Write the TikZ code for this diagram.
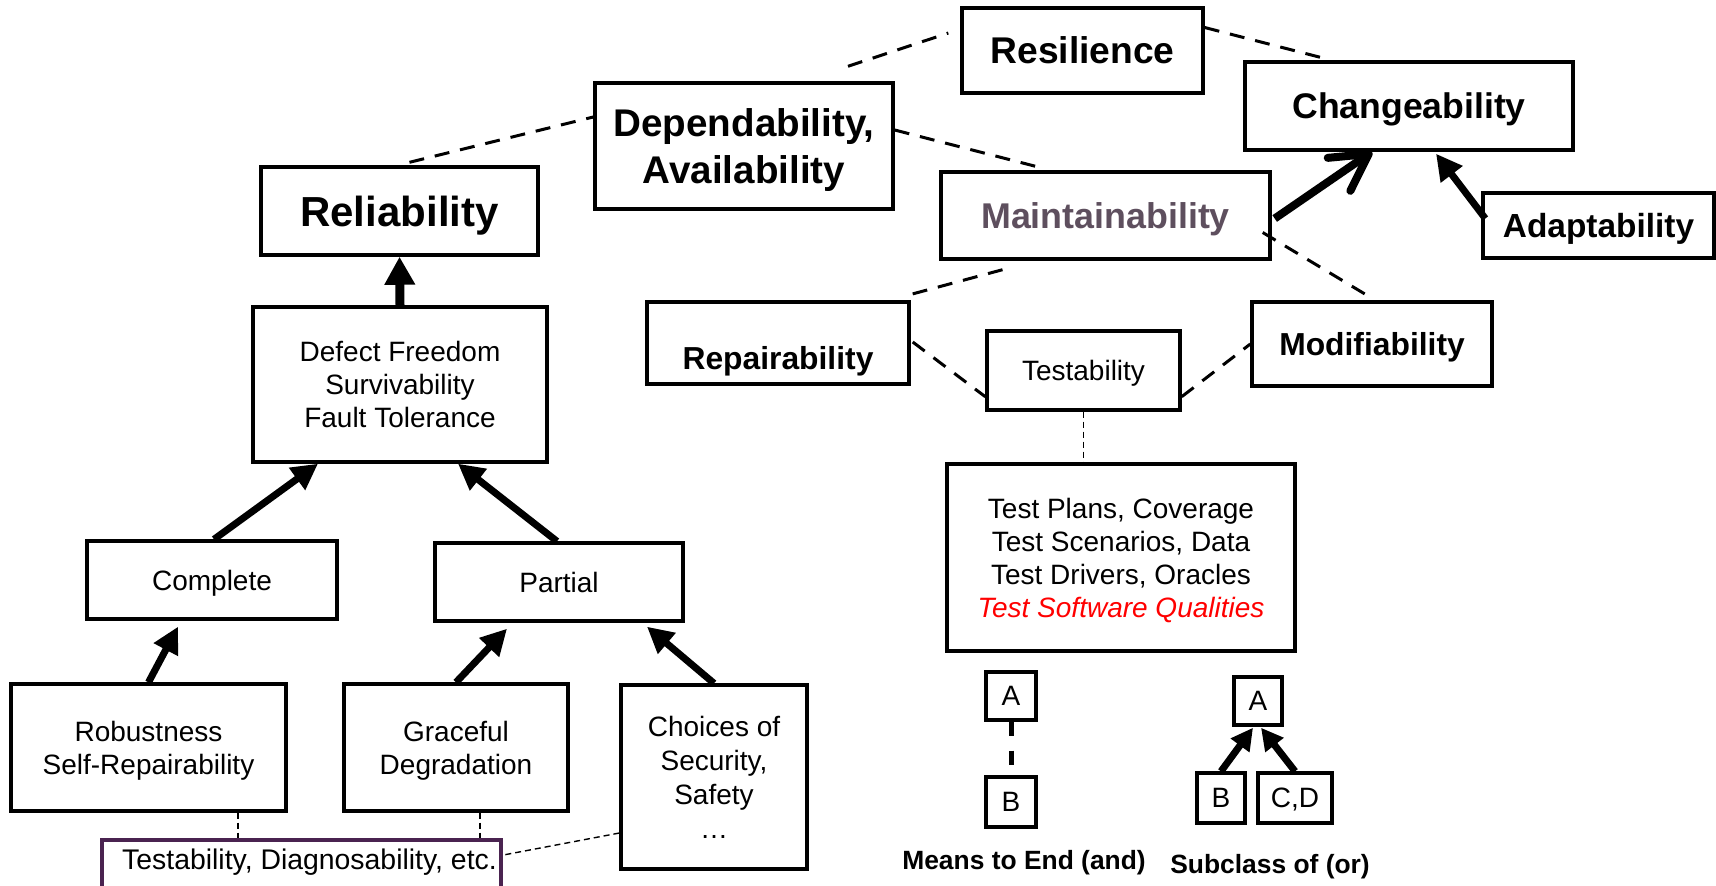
\documentclass[tikz,border=0pt]{standalone}
\usepackage{fontspec}
\setmainfont{Liberation Sans}
\usetikzlibrary{arrows.meta,calc}
\definecolor{mntgrey}{HTML}{5E4F5E}
\definecolor{plum}{HTML}{4A2350}
\begin{document}
\begin{tikzpicture}[x=0.5pt,y=-0.5pt,
  box/.style={draw=black, line width=1.7pt, fill=white, inner sep=0pt, align=center,
    text depth=0pt, font=\fontsize{14}{16.5}\selectfont},
  bigbold/.style 2 args={font=\bfseries\fontsize{#1}{#2}\selectfont},
  link/.style={line width=1.5pt, dash pattern=on 7.5pt off 5.5pt},
  thin link/.style={line width=0.7pt, dash pattern=on 3pt off 2pt},
  up/.style={line width=3.5pt, -{Triangle[length=13pt,width=13pt]}},
  small up/.style={line width=3.5pt, -{Triangle[length=11pt,width=11pt]}},
  legend/.style={font=\bfseries\fontsize{13.2}{15.5}\selectfont, inner sep=0pt}
]
\useasboundingbox (0,0) rectangle (1716,885);

% upper quality boxes
\node[box, bigbold={18.6}{22}, minimum width=120.5pt, minimum height=42.5pt] (res) at (1082.5,50.5) {Resilience};
\node[box, bigbold={19.3}{23.5}, minimum width=149pt, minimum height=63pt] (dep) at (744,146) {Dependability,\\Availability};
\node[box, bigbold={17.8}{21}, minimum width=164pt, minimum height=44pt] (chg) at (1409,106) {Changeability};
\node[box, bigbold={21}{25}, minimum width=138.5pt, minimum height=44pt] (rel) at (399.5,211) {Reliability};
\node[box, bigbold={17.9}{21}, text=mntgrey, minimum width=164.5pt, minimum height=43.5pt] (mnt) at (1105.5,215.5) {Maintainability};
\node[box, bigbold={16.7}{20}, minimum width=115.5pt, minimum height=32.5pt] (adp) at (1598.5,225.5) {Adaptability};
\node[box, bigbold={15.9}{19}, text height=26.5pt, minimum width=131pt, minimum height=41pt] (rep) at (778,343) {Repairability};
\node[box, bigbold={15.9}{19}, minimum width=120pt, minimum height=42pt] (mod) at (1372,344) {Modifiability};
\node[box, minimum width=96.5pt, minimum height=39.5pt] (tst) at (1083.5,370.5) {Testability};

% reliability subtree
\node[box, minimum width=147pt, minimum height=77.5pt] (def) at (400,384.5) {Defect Freedom\\Survivability\\Fault Tolerance};
\node[box, minimum width=125pt, minimum height=39pt] (cmp) at (212,580) {Complete};
\node[box, minimum width=124pt, minimum height=39pt] (prt) at (559,582) {Partial};
\node[box, minimum width=137.5pt, minimum height=63.5pt] (rob) at (148.5,747.5) {Robustness\\Self-Repairability};
\node[box, minimum width=112pt, minimum height=63.5pt] (grc) at (456,747.5) {Graceful\\Degradation};
\node[box, font=\fontsize{14}{17}\selectfont, minimum width=93pt, minimum height=92pt] (chc) at (714,777) {Choices of\\Security,\\Safety\\…};
\node[box, draw=plum, line width=2.3pt, font=\fontsize{14.2}{17}\selectfont, text height=10.2pt, text depth=10.9pt, minimum width=199.5pt, minimum height=30pt] (diag) at (301.5,870) {\hspace*{8pt}Testability, Diagnosability, etc.};

% testing artefacts
\node[box, minimum width=174pt, minimum height=93.5pt] (tp) at (1121,557.5) {Test Plans, Coverage\\Test Scenarios, Data\\Test Drivers, Oracles\\{\color{red}\itshape Test Software Qualities}};

% legend
\node[box, minimum width=25pt, minimum height=24pt] (ma) at (1011,696) {A};
\node[box, minimum width=25pt, minimum height=25pt] (mb) at (1011,802) {B};
\node[box, minimum width=24pt, minimum height=24pt] (sa) at (1258,701) {A};
\node[box, minimum width=24pt, minimum height=25pt] (sb) at (1221,798) {B};
\node[box, minimum width=37pt, minimum height=25pt] (scd) at (1295,798) {C,D};
\node[legend] (lme) at (1024,863) {Means to End (and)};
\node[legend] (lsc) at (1270,867) {Subclass of (or)};

% means-to-end relations
\draw[link] ($(dep.north)+(104,-15)$) -- ($(res.west)+(-12,-17.5)$);
\draw[link] ($(rel.north)+(10,-3)$) -- ($(dep.west)+(0,-29)$);
\draw[link] ($(dep.east)+(0,-16)$) -- ($(mnt.north)+(-70,-4)$);
\draw[link] ($(res.east)+(0,-23)$) -- ($(chg.north)+(-81,-1)$);
\draw[link] ($(mnt.south)+(-103,9)$) -- ($(rep.north east)+(-7,-4)$);
\draw[link] ($(mnt.east)+(-9,17)$) -- ($(mod.north)+(0,-2)$);
\draw[link] ($(rep.east)+(2,-1)$) -- ($(tst.south west)+(0,-15)$);
\draw[link] ($(tst.south east)+(0,-15)$) -- (mod.west);
\draw[thin link] (tst.south) -- (tst.south |- tp.north);
\draw[thin link] ($(rob.south)+(89.5,0)$) coordinate (r1) -- (r1 |- diag.north);
\draw[thin link] ($(grc.south)+(24,0)$) coordinate (g1) -- (g1 |- diag.north);
\draw[thin link] ($(chc.west)+(0,56)$) -- ($(diag.east)+(0,-15)$);
\draw[line width=2.5pt, dash pattern=on 7pt off 7.5pt] (ma.south) -- (mb.north);

% subclass relations
\draw[line width=4.5pt, -{Triangle[length=14pt,width=14.5pt]}] (def.north) -- (rel.south);
\draw[line width=4pt, -{Straight Barb[round,length=18pt,width=20pt]}] ($(mnt.east)+(3,3)$) -- ($(chg.south)+(-37,0)$);
\draw[up] ($(adp.west)+(4,-7)$) -- ($(chg.south)+(27,2)$);
\draw[up] ($(cmp.north)+(2,0)$) -- ($(def.south)+(-82,0)$);
\draw[up] ($(prt.north)+(-2,0)$) -- ($(def.south)+(58,0)$);
\draw[up] (rob.north) -- ($(cmp.south)+(-34,6)$);
\draw[up] (grc.north) -- ($(prt.south)+(-52,6)$);
\draw[up] (chc.north) -- ($(prt.south)+(88,4)$);
\draw[small up] (sb.north) -- ($(sa.south)+(-5,1)$);
\draw[small up] (scd.north) -- ($(sa.south)+(3,1)$);
\end{tikzpicture}
\end{document}
